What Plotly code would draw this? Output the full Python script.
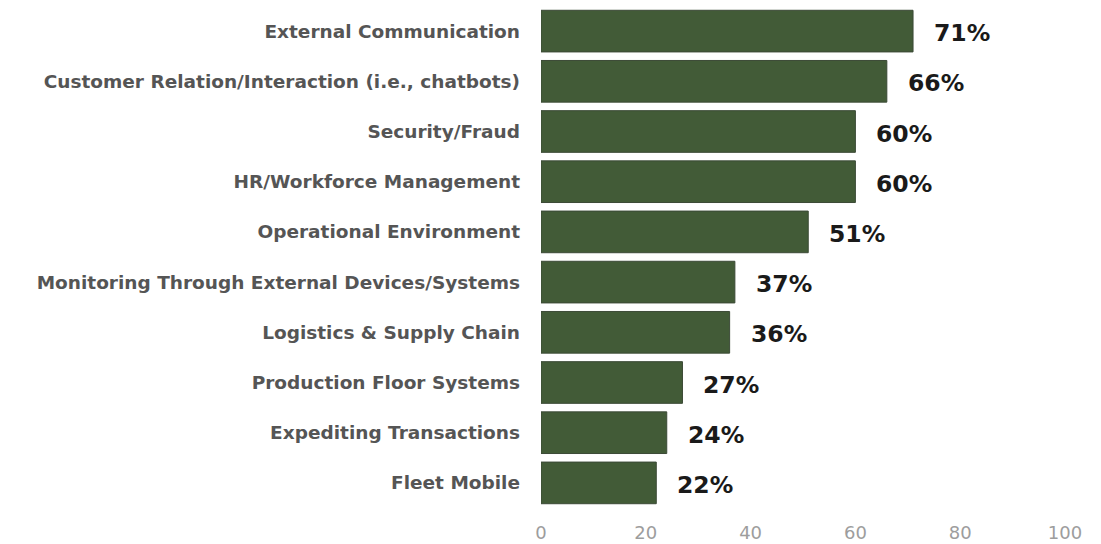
import plotly.graph_objects as go

# Share of respondents by AI application area (percent)
categories = [
    "External Communication",
    "Customer Relation/Interaction (i.e., chatbots)",
    "Security/Fraud",
    "HR/Workforce Management",
    "Operational Environment",
    "Monitoring Through External Devices/Systems",
    "Logistics & Supply Chain",
    "Production Floor Systems",
    "Expediting Transactions",
    "Fleet Mobile",
]
values = [71, 66, 60, 60, 51, 37, 36, 27, 24, 22]
x_ticks = [0, 20, 40, 60, 80, 100]

BAR_COLOR = "#425b37"
LABEL_FONT = "DejaVu Sans"

fig = go.Figure(
    go.Bar(
        x=values,
        y=categories,
        orientation="h",
        marker=dict(color=BAR_COLOR, line=dict(color="#3b4a36", width=1)),
        hoverinfo="skip",
    )
)

# Percentage labels to the right of each bar
for cat, val in zip(categories, values):
    fig.add_annotation(
        x=val,
        y=cat,
        text=f"{val}%",
        showarrow=False,
        xanchor="left",
        xshift=19,
        yshift=-2,
        font=dict(family=LABEL_FONT, size=23.5, color="#1a1a1a", weight="bold"),
    )

fig.update_layout(
    width=1101,
    height=544,
    margin=dict(l=541, r=36, t=6, b=36),
    paper_bgcolor="white",
    plot_bgcolor="white",
    bargap=0.17,
    showlegend=False,
    xaxis=dict(
        range=[0, 100],
        tickvals=x_ticks,
        ticktext=[str(t) for t in x_ticks],
        showgrid=False,
        zeroline=False,
        showline=False,
        ticks="",
        automargin=False,
        ticklabelstandoff=12,
        tickfont=dict(family=LABEL_FONT, size=18, color="#9d9d9d"),
    ),
    yaxis=dict(
        autorange="reversed",
        showgrid=False,
        zeroline=False,
        showline=False,
        ticks="",
        automargin=False,
        ticklabelstandoff=20,
        tickfont=dict(family=LABEL_FONT, size=18.5, color="#555555", weight="bold"),
    ),
)

fig.write_html("out.html")
